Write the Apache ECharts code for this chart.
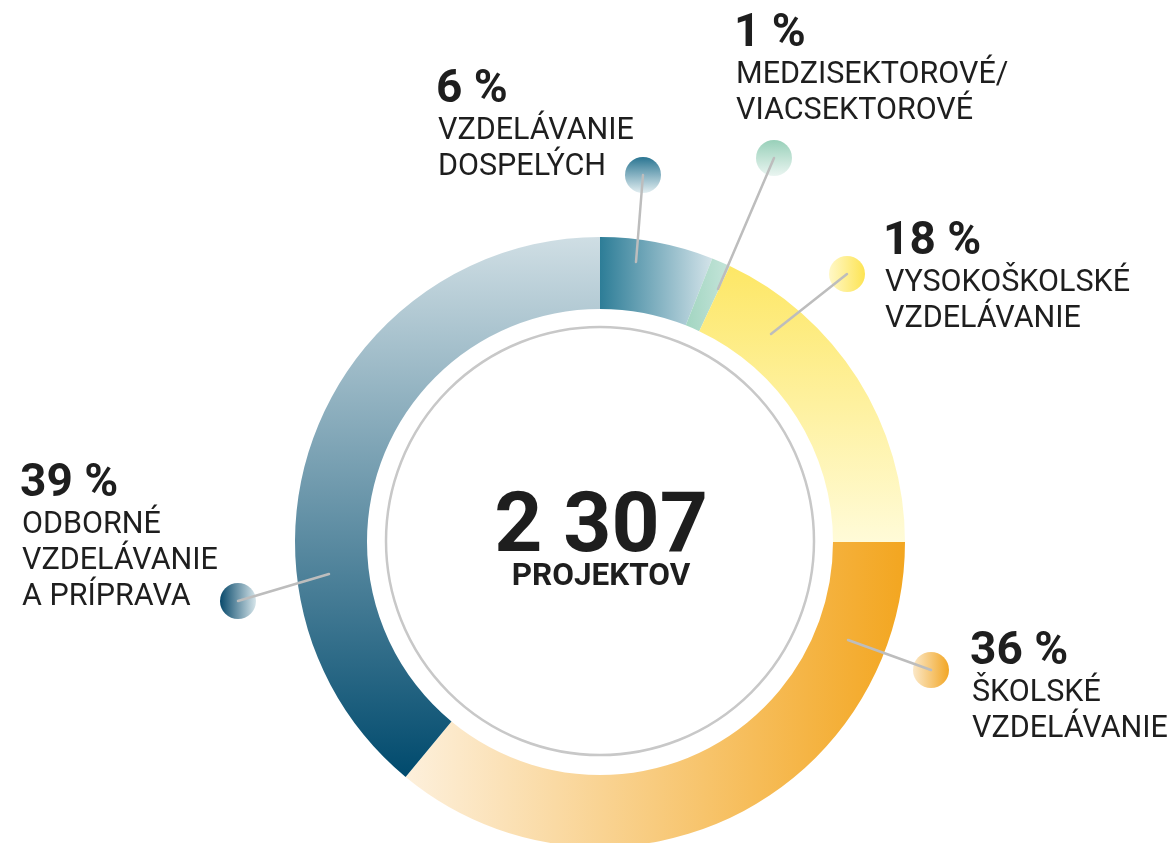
<!DOCTYPE html>
<html>
<head>
<meta charset="utf-8">
<script src="https://cdn.jsdelivr.net/npm/echarts@6/dist/echarts.min.js"></script>
<style>
  html, body { margin: 0; padding: 0; background: #fff; }
  #main { width: 1175px; height: 843px; }
</style>
</head>
<body>
<div id="main"></div>
<script>
// data
const categories = [
  'VZDELÁVANIE\nDOSPELÝCH',
  'MEDZISEKTOROVÉ/\nVIACSEKTOROVÉ',
  'VYSOKOŠKOLSKÉ\nVZDELÁVANIE',
  'ŠKOLSKÉ\nVZDELÁVANIE',
  'ODBORNÉ\nVZDELÁVANIE\nA PRÍPRAVA'
];
const shares = [6, 1, 18, 36, 39];
const totalProjects = '2 307';
const totalLabel = 'PROJEKTOV';

const LG = echarts.graphic.LinearGradient;
const CX = 600, CY = 542;

// ring fills, one per slice
const sliceFills = [
  new LG(0, 0, 1, 0, [{ offset: 0, color: '#2d7d97' }, { offset: 1, color: '#d3e3e9' }]),
  new LG(0, 0, 1, 0, [{ offset: 0, color: '#a2d5c1' }, { offset: 1, color: '#c5e5da' }]),
  new LG(0, 0, 0, 1, [{ offset: 0, color: '#fde766' }, { offset: 1, color: '#fffbd8' }]),
  new LG(0, 0, 1, 0, [{ offset: 0, color: '#fdf0dc' }, { offset: 1, color: '#f3a620' }]),
  new LG(0, 0, 0, 1, [{ offset: 0, color: '#cfdee4' }, { offset: 1, color: '#004a6d' }])
];
// marker dot fills
const dotFills = [
  new LG(0, 0, 0, 1, [{ offset: 0, color: '#2a7592' }, { offset: 1, color: '#e2eef1' }]),
  new LG(0, 0, 0, 1, [{ offset: 0, color: '#98d0b9' }, { offset: 1, color: '#eaf5f1' }]),
  new LG(0, 0, 1, 0, [{ offset: 0, color: '#fff8c8' }, { offset: 1, color: '#fde453' }]),
  new LG(0, 0, 1, 0, [{ offset: 0, color: '#fbe8c8' }, { offset: 1, color: '#f2a624' }]),
  new LG(0, 0, 1, 0, [{ offset: 0, color: '#08496b' }, { offset: 1, color: '#d6e5ea' }])
];

// label layout: text box top-left, leader start on ring, dot centre
const labelSpots = [
  { x: 436, y: 67, from: [636, 262], dot: [643, 175] },
  { x: 734, y: 11, from: [718, 289], dot: [774, 158] },
  { x: 883, y: 219, from: [771, 334], dot: [847, 274] },
  { x: 970, y: 629, from: [848, 640], dot: [931, 670] },
  { x: 20, y: 461, from: [329, 574], dot: [238, 601] }
];

const chart = echarts.init(document.getElementById('main'));

const option = {
  animation: false,
  graphic: [
    {
      type: 'circle',
      z: 1,
      shape: { cx: CX, cy: CY - 1, r: 214 },
      style: { fill: 'none', stroke: '#c8c8c8', lineWidth: 2.5 }
    },
    {
      type: 'text',
      z: 5,
      x: CX + 1,
      y: 530,
      style: {
        text: totalProjects,
        fill: '#1e1e1e',
        font: 'bold 84px Roboto',
        align: 'center',
        verticalAlign: 'middle'
      }
    },
    {
      type: 'text',
      z: 5,
      x: CX + 1,
      y: 577,
      style: {
        text: totalLabel,
        fill: '#1e1e1e',
        font: 'bold 31.5px Roboto',
        align: 'center',
        verticalAlign: 'middle'
      }
    }
  ].concat(labelSpots.map((s, i) => ({
    type: 'circle',
    z: 1,
    shape: { cx: s.dot[0], cy: s.dot[1], r: 18 },
    style: { fill: dotFills[i] }
  }))).concat(labelSpots.map((s) => ({
    type: 'line',
    z: 10,
    shape: { x1: s.from[0], y1: s.from[1], x2: s.dot[0], y2: s.dot[1] },
    style: { stroke: '#bdbdbd', lineWidth: 2.5, lineCap: 'round' }
  }))),
  series: [
    {
      type: 'pie',
      center: [CX, CY],
      radius: [233, 305],
      startAngle: 90,
      clockwise: true,
      avoidLabelOverlap: false,
      silent: true,
      z: 2,
      data: shares.map((v, i) => ({
        name: categories[i],
        value: v,
        itemStyle: { color: sliceFills[i] }
      })),
      label: {
        show: true,
        position: 'outside',
        formatter: (p) => '{p|' + p.value + ' %}\n' +
          p.name.split('\n').map((s) => '{n|' + s + '}').join('\n'),
        rich: {
          p: { fontFamily: 'Roboto', fontWeight: 'bold', fontSize: 46, lineHeight: 46, color: '#1e1e1e' },
          n: { fontFamily: 'Roboto', fontSize: 30.5, lineHeight: 36, color: '#1e1e1e', padding: [0, 0, 0, 2] }
        }
      },
      labelLine: { show: false },
      labelLayout: (params) => {
        const s = labelSpots[params.dataIndex];
        return { x: s.x, y: s.y, align: 'left', verticalAlign: 'top' };
      }
    }
  ]
};

chart.setOption(option);
</script>
</body>
</html>
